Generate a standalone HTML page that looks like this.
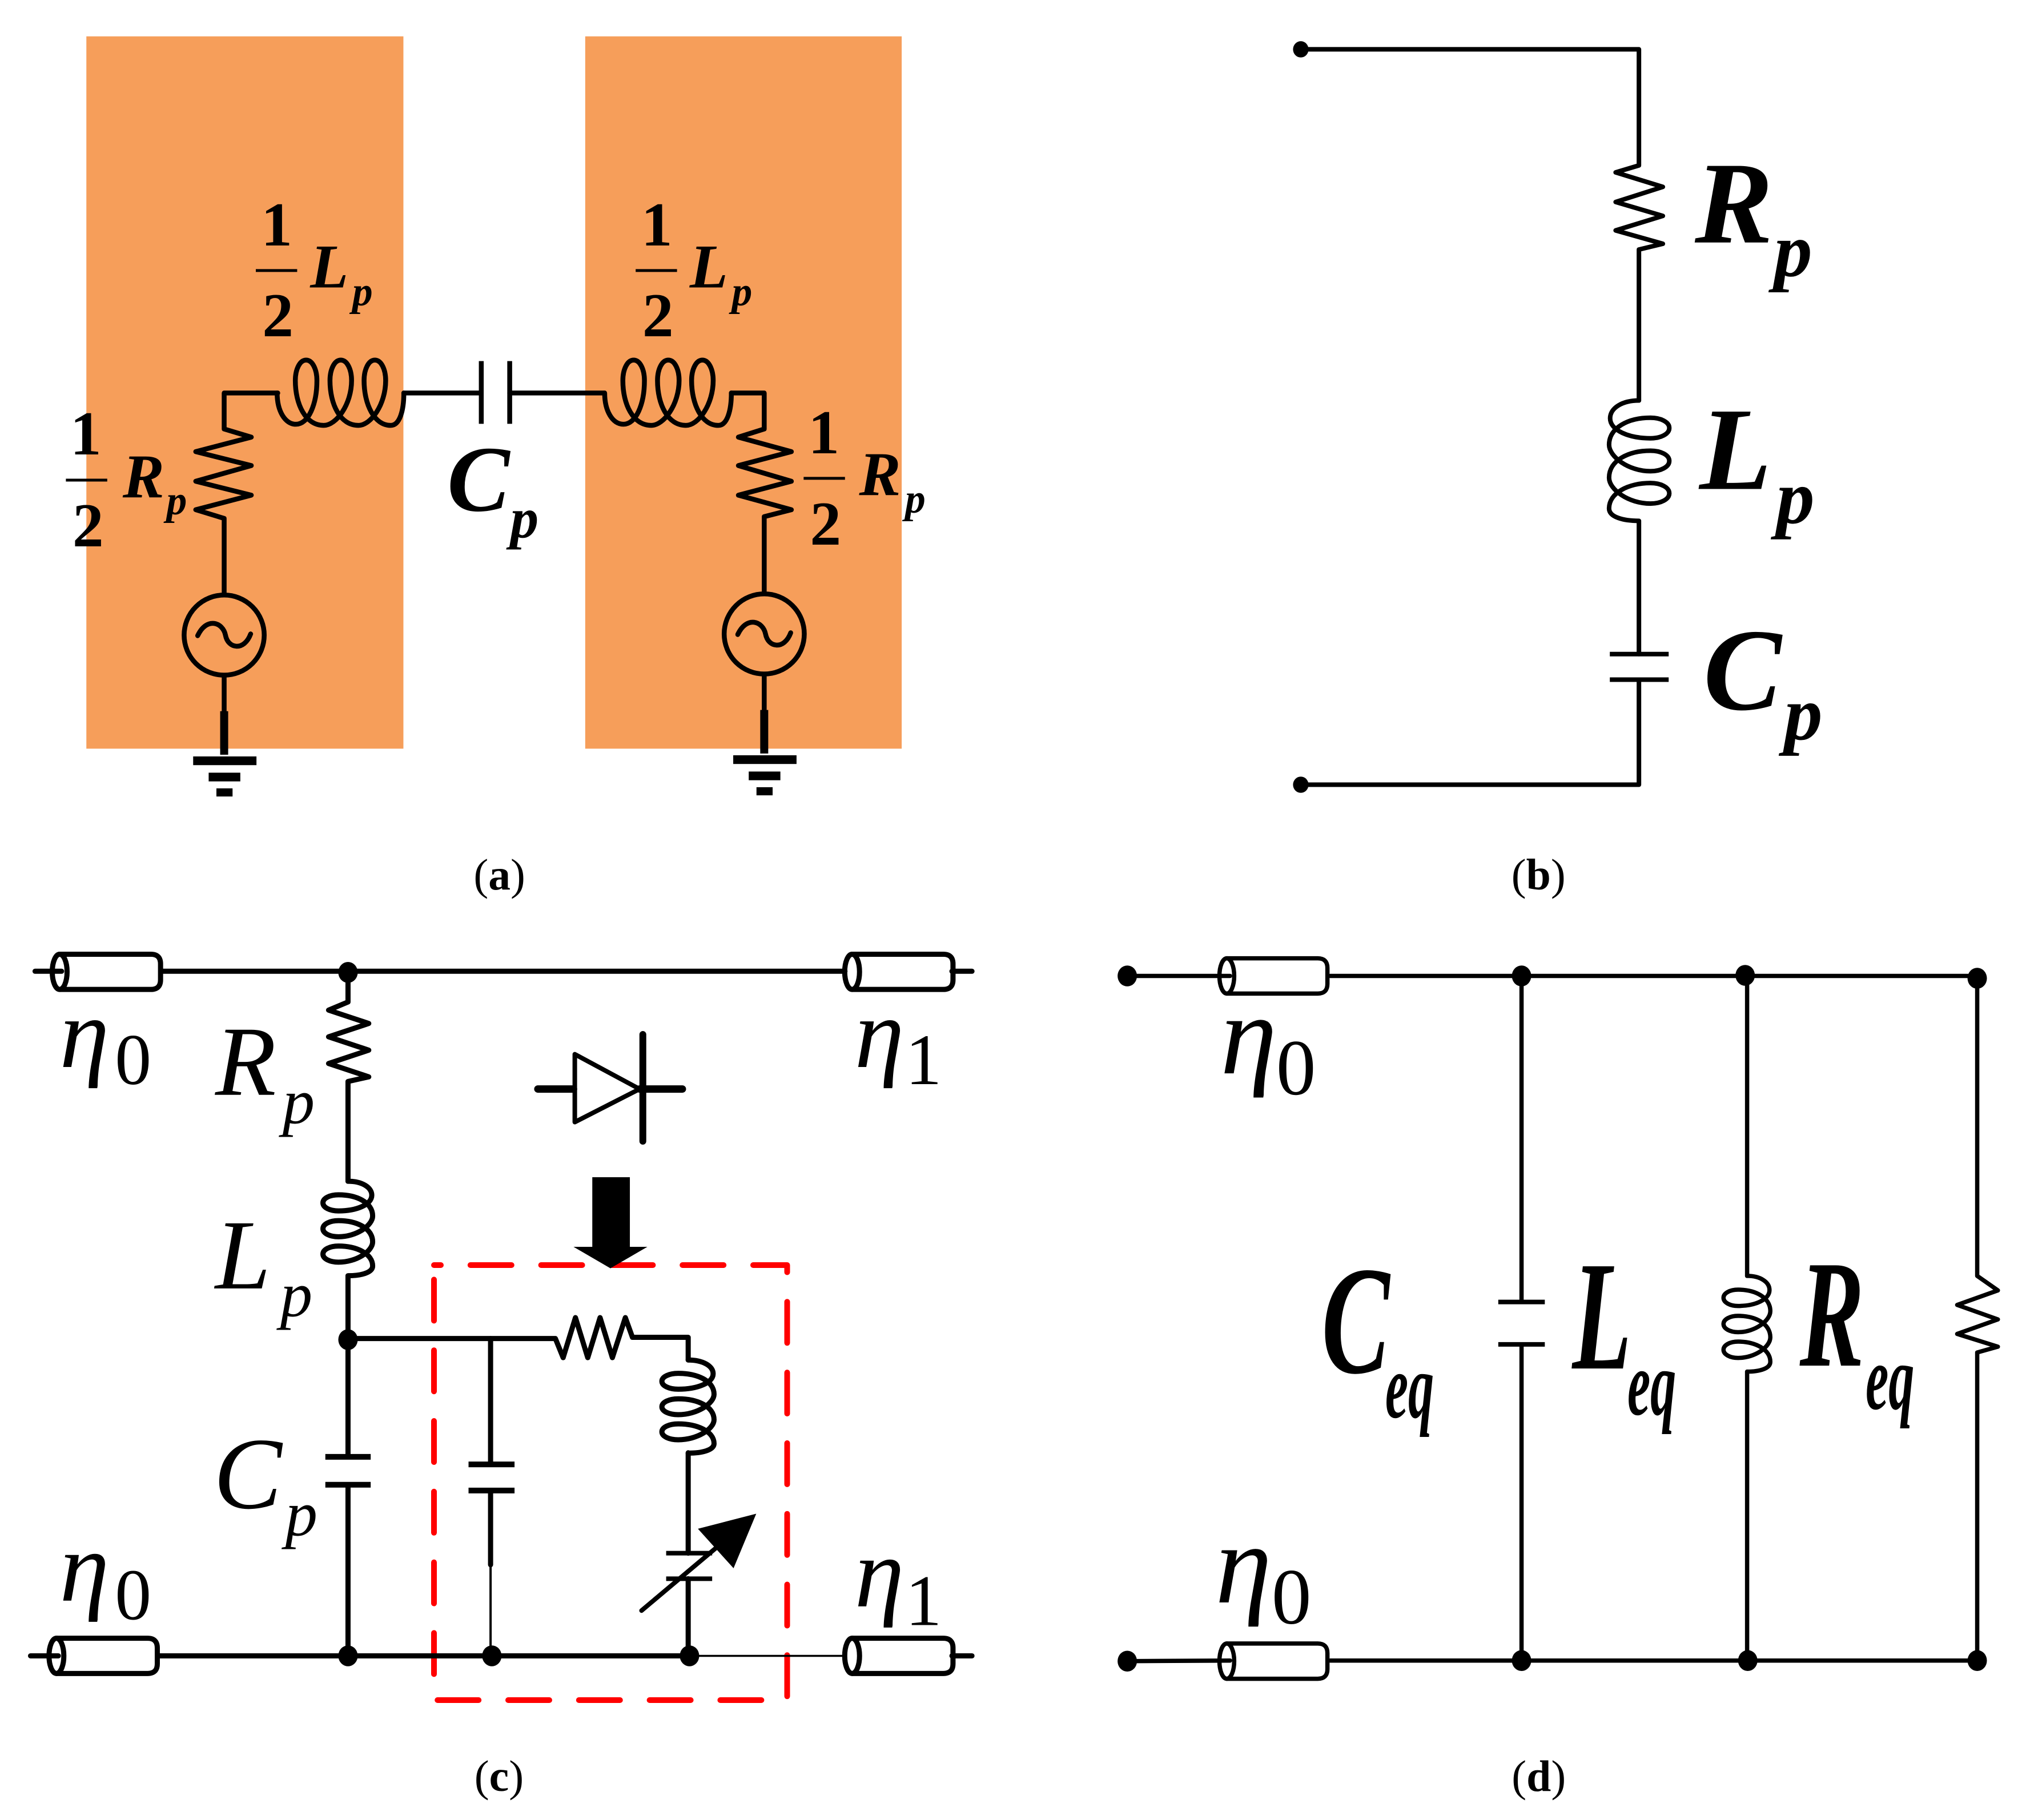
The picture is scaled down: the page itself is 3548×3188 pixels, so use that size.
<!DOCTYPE html>
<html><head><meta charset="utf-8">
<style>
html,body{margin:0;padding:0;background:#fff}
svg{display:block}
.w *{vector-effect:non-scaling-stroke;stroke-linecap:round;stroke-linejoin:round}
.w{fill:none;stroke:#000}
.f{fill:#000;stroke:none}
text{fill:#000;font-family:"Liberation Serif",serif}
.bi{font-weight:bold;font-style:italic}
.b{font-weight:bold}
.i{font-style:italic}
.m{text-anchor:middle}
.n{vector-effect:non-scaling-stroke;stroke-linecap:round;stroke-linejoin:round;fill:none}
</style></head><body>
<svg xmlns="http://www.w3.org/2000/svg" width="3548" height="3188" viewBox="0 0 3548 3188">
<defs>
<path id="coilh" class="n" d="M0 0C0 32 14 55 33 55C55 55 70 20 70 -22C70 -42 62 -58 51 -58C40 -58 32 -42 32 -22C32 20 50 57 82 57C104 57 131 20 131 -22C131 -42 123 -58 112 -58C101 -58 93 -42 93 -22C93 20 111 57 143 57C165 57 191 20 191 -22C191 -42 183 -58 172 -58C161 -58 153 -42 153 -22C153 20 171 57 200 57C216 57 223 30 223 0"/>
<g id="cable"><path class="n" d="M0 -31H160Q177 -31 177 -14V14Q177 31 160 31H0"/><ellipse class="n" cx="0" cy="0" rx="13" ry="31"/></g>
</defs>
<rect width="3548" height="3188" fill="#fff"/>

<!-- (a) -->
<g transform="scale(.995)">
<rect x="152" y="64" width="558" height="1254" fill="#F69E5A"/>
<rect x="1030" y="64" width="557" height="1254" fill="#F69E5A"/>
<g transform="scale(1.137,1.022)">
<g class="w" stroke-width="8.5">
<path d="M347 1025V893L303 878L389 853L303 829L389 802L303 778L389 753L347 739V677H430"/>
<use href="#coilh" transform="translate(429,677) scale(.8795,.9785)"/>
<path d="M625 677H742"/>
<path d="M745 622V730M789 622V730" style="stroke-linecap:butt"/>
<path d="M789 677H935"/>
<use href="#coilh" transform="translate(936,677) scale(.8795,.9785)"/>
<path d="M1132 677H1183V739L1143 753L1225 778L1143 802L1225 829L1143 853L1225 878L1183 890V1022"/>
<ellipse cx="347" cy="1094" rx="62" ry="69"/>
<ellipse cx="1183" cy="1092" rx="62" ry="69"/>
<path d="M306 1095C320 1062 345 1072 349 1094C353 1118 378 1122 388 1092"/>
<path d="M1142 1093C1156 1060 1181 1070 1185 1092C1189 1116 1214 1120 1224 1090"/>
<path d="M347 1163V1230M1183 1161V1228"/>
<path d="M347 1225V1300M1183 1223V1298" stroke-width="14" style="stroke-linecap:butt"/>
</g>
<g class="f">
<rect x="299" y="1303" width="98" height="15"/><rect x="323" y="1331" width="49" height="15"/><rect x="335" y="1358" width="25" height="14"/>
<rect x="1135" y="1301" width="98" height="15"/><rect x="1159" y="1329" width="49" height="15"/><rect x="1171" y="1356" width="25" height="14"/>
</g>
<g class="w" stroke-width="5">
<path d="M396 466H460M984 466H1048M102 827H166M1244 824H1308" style="stroke-linecap:butt"/>
</g>
</g>
<g font-size="110" class="b">
<text class="m" x="487" y="432">1</text><text class="m" x="489" y="592">2</text>
<text class="m" x="1156" y="432">1</text><text class="m" x="1158" y="592">2</text>
<text class="m" x="151" y="800">1</text><text class="m" x="155" y="962">2</text>
<text class="m" x="1450" y="798">1</text><text class="m" x="1453" y="959">2</text>
</g>
<g class="bi" font-size="110">
<text x="546" y="506">L</text><text x="1214" y="506">L</text>
<text x="216" y="876">R</text><text x="1512" y="872">R</text>
</g>
<g class="bi" font-size="72">
<text x="620" y="537">p</text><text x="1288" y="537">p</text>
<text x="293" y="905">p</text><text x="1593" y="902">p</text>
</g>
<text class="bi" x="787" y="899" font-size="165">C</text>
<text class="bi" x="898" y="946" font-size="100">p</text>
<text class="m" x="879" y="1566" font-size="78">(<tspan class="b">a</tspan>)</text>
</g>

<!-- (b) -->
<g transform="matrix(.9958,0,0,.9948,7.6,0)">
<g transform="translate(1774,0) scale(1.137,1.022)">
<g class="w" stroke-width="8">
<path d="M445 85H968V285L932 297L1005 322L932 348L1005 372L932 397L1005 420L968 430V690"/>
<use href="#coilh" transform="matrix(0,.93,-.81,0,968,690)"/>
<path d="M968 898V1127M968 1171V1352H445"/>
<path d="M923 1127H1014M923 1171H1014" style="stroke-linecap:butt"/>
</g>
<ellipse class="f" cx="445" cy="85" rx="12" ry="14"/>
<ellipse class="f" cx="445" cy="1352" rx="12" ry="14"/>
</g>
<text class="bi" x="2973" y="427" font-size="206">R</text>
<text class="bi" x="3112" y="486" font-size="135">p</text>
<text class="bi" x="2981" y="861" font-size="208">L</text>
<text class="bi" x="3116" y="921" font-size="135">p</text>
<text class="bi" x="2988" y="1249" font-size="206">C</text>
<text class="bi" x="3130" y="1302" font-size="135">p</text>
<text class="m" x="2698" y="1566" font-size="78">(<tspan class="b">b</tspan>)</text>
</g>

<!-- (c) -->
<path d="M760 2216H1378.5V2978H760Z" fill="none" stroke="#FF0000" stroke-width="10" stroke-linecap="round" stroke-linejoin="round" stroke-dasharray="72 51.8" stroke-dashoffset="60"/>
<g transform="matrix(.998,0,0,.9944,-3.3,9.5)">
<g transform="translate(0,1594) scale(1.137,1.022)">
<g class="w" stroke-width="9">
<path d="M57 105H98M252 105H1307M1472 105H1503"/>
<use href="#cable" transform="translate(95,106) scale(.8795,.9785)"/>
<use href="#cable" transform="translate(1318,106) scale(.8795,.9785)"/>
<path d="M540 107V158L510 172L572 195L510 218L572 241L510 264L572 287L540 295V467"/>
<use href="#coilh" transform="matrix(0,.73,.667,0,540,467)"/>
<path d="M540 630V942M540 990V1285"/>
<path d="M505 942H575M505 990H575" style="stroke-linecap:butt" stroke-width="10"/>
<path d="M50 1285H93M247 1285H1067"/>
<path d="M1472 1285H1503"/>
<use href="#cable" transform="translate(90,1285) scale(.8795,.9785)"/>
<use href="#cable" transform="translate(1318,1285) scale(.8795,.9785)"/>
<path d="M1067 1285H1305" stroke-width="3.5"/>
<path d="M540 738H860L872 771L891 702L910 771L929 702L948 771L968 702L979 736H1065V775"/>
<use href="#coilh" transform="matrix(0,.72,.7,0,1065,775)"/>
<path d="M1065 935V1108M1065 1152V1285"/>
<path d="M1031 1108H1102M1031 1152H1102" style="stroke-linecap:butt" stroke-width="8"/>
<path d="M993 1207L1110 1097" stroke-width="8"/>
<path d="M760 738V955M760 1000V1128"/>
<path d="M760 1128V1285" stroke-width="4"/>
<path d="M726 955H797M726 1000H797" style="stroke-linecap:butt" stroke-width="10"/>
<path d="M833 308H888M990 308H1056" stroke-width="13"/>
<path d="M890 248V365L990 308Z" stroke-width="8"/>
<path d="M995 214V398" stroke-width="12"/>
</g>
<g class="f">
<path d="M1170 1040L1080 1066L1135 1134Z"/>
<rect x="917" y="460" width="58" height="122"/>
<path d="M888 580H1002L945 617Z"/>
<ellipse cx="540" cy="107" rx="15" ry="18"/>
<ellipse cx="540" cy="740" rx="15" ry="18"/>
<ellipse cx="540" cy="1285" rx="15" ry="18"/>
<ellipse cx="762" cy="1285" rx="15" ry="18"/>
<ellipse cx="1067" cy="1285" rx="15" ry="18"/>
</g>
</g>
<g class="i" font-size="175">
<text x="108" y="1870">η</text><text x="1503" y="1870">η</text>
<text x="108" y="2810">η</text><text x="1503" y="2820">η</text>
<text x="381" y="1919">R</text><text x="381" y="2260">L</text>
</g>
<text class="i" x="378" y="2647" font-size="180">C</text>
<g font-size="128">
<text x="205" y="1900">0</text><text x="1592" y="1900">1</text>
<text x="205" y="2843">0</text><text x="1592" y="2853">1</text>
</g>
<g class="i" font-size="113">
<text x="499" y="1969">p</text><text x="495" y="2309">p</text><text x="504" y="2695">p</text>
</g>
<text class="m" x="879" y="3145" font-size="78">(<tspan class="b">c</tspan>)</text>
</g>

<!-- (d) -->
<g transform="matrix(.9955,0,0,.9944,8.9,9.6)">
<g transform="translate(1774,1594) scale(1.137,1.022)">
<g class="w" stroke-width="7.5">
<path d="M176 113H335M490 113H1491M176 1294L335 1293M490 1293H1491"/>
<use href="#cable" transform="translate(330,113) scale(.8795,.9785)"/>
<use href="#cable" transform="translate(330,1294) scale(.8795,.9785)"/>
<path d="M786 113V675M786 748V1293"/>
<path d="M750 675H822M750 748H822" style="stroke-linecap:butt" stroke-width="8"/>
<path d="M1135 110V630"/>
<use href="#coilh" transform="matrix(0,.74,.63,0,1135,630)"/>
<path d="M1135 795V1293"/>
<path d="M1491 117V630L1523 655L1460 680L1523 705L1460 730L1523 752L1491 762V1293"/>
</g>
<g class="f">
<ellipse cx="176" cy="113" rx="15" ry="18"/><ellipse cx="176" cy="1294" rx="15" ry="18"/>
<ellipse cx="786" cy="113" rx="15" ry="18"/><ellipse cx="1132" cy="112" rx="15" ry="18"/><ellipse cx="1491" cy="117" rx="15" ry="18"/>
<ellipse cx="786" cy="1293" rx="15" ry="18"/><ellipse cx="1136" cy="1293" rx="15" ry="18"/><ellipse cx="1491" cy="1293" rx="15" ry="18"/>
</g>
</g>
<g class="i" font-size="200">
<text x="2138" y="1881">η</text><text x="2129" y="2813">η</text>
</g>
<g font-size="140">
<text x="2236" y="1918">0</text><text x="2228" y="2850">0</text>
</g>
<text class="bi" font-size="272" transform="translate(2316,2408) scale(.66,1)">C</text>
<text class="bi" font-size="162" transform="translate(2428,2487) scale(.56,1)">eq</text>
<text class="bi" font-size="275" transform="translate(2757,2401) scale(.62,1)">L</text>
<text class="bi" font-size="162" transform="translate(2854,2482) scale(.56,1)">eq</text>
<text class="bi" font-size="270" transform="translate(3157,2396) scale(.63,1)">R</text>
<text class="bi" font-size="162" transform="translate(3273,2472) scale(.56,1)">eq</text>
<text class="m" x="2698" y="3145" font-size="78">(<tspan class="b">d</tspan>)</text>
</g>
</svg>
</body></html>
